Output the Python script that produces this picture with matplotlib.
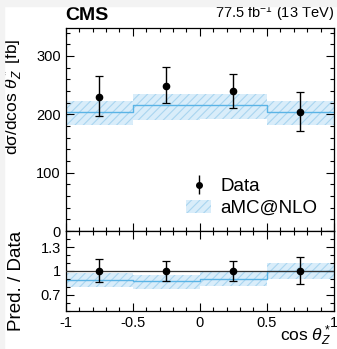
import matplotlib
matplotlib.use("Agg")
import matplotlib.pyplot as plt
from matplotlib.patches import Patch, Rectangle
from matplotlib.ticker import MultipleLocator, FixedLocator
import numpy as np

plt.rcParams['font.family'] = ['Liberation Sans', 'DejaVu Sans']
plt.rcParams['mathtext.fontset'] = 'custom'
plt.rcParams['mathtext.rm'] = 'Liberation Sans'
plt.rcParams['mathtext.it'] = 'Liberation Sans:italic'
plt.rcParams['mathtext.bf'] = 'Liberation Sans:bold'
plt.rcParams['hatch.color'] = '#a9d5f0'
plt.rcParams['hatch.linewidth'] = 0.8

# bins in cos theta_Z*
bin_edges = [-1.0, -0.5, 0.0, 0.5, 1.0]
bin_centers = [-0.75, -0.25, 0.25, 0.75]

# measured cross section [fb]
data_val = [230, 249, 240, 204]
data_up = [266, 281, 269, 238]
data_dn = [197, 219, 210, 172]

# aMC@NLO prediction [fb]
pred_val = [203.5, 216, 215.6, 204]
pred_up = [222, 235.5, 235.5, 222]
pred_dn = [181, 190, 191.6, 182]

# ratio panel: pred / data
ratio_val = [0.89, 0.877, 0.905, 1.0]
ratio_up = [0.975, 0.95, 0.988, 1.10]
ratio_dn = [0.80, 0.78, 0.81, 0.90]
rdata_up = [1.15, 1.12, 1.127, 1.17]
rdata_dn = [0.86, 0.877, 0.877, 0.84]

LINE_BLUE = '#5ab4e6'
FILL_BLUE = '#d9edfa'


def step(vals):
    return list(vals) + [vals[-1]]


def draw_band(ax, val, up, dn):
    ax.fill_between(bin_edges, step(dn), step(up), step='post',
                    facecolor=FILL_BLUE, edgecolor='#a9d5f0', hatch='////',
                    linewidth=0, zorder=1)
    ax.step(bin_edges, step(val), where='post', color=LINE_BLUE, lw=1.0,
            zorder=2)


def style_axis(ax):
    ax.tick_params(which='both', direction='in', top=True, right=True,
                   labelsize=10.5, width=0.8)
    ax.tick_params(which='major', length=6)
    ax.tick_params(which='minor', length=3)
    for s in ax.spines.values():
        s.set_linewidth(0.9)


fig = plt.figure(figsize=(3.37, 3.49), dpi=100)
# grey page margin seen at the top / left of the reference
fig.patches.append(Rectangle((0, 0.984), 1, 0.016, transform=fig.transFigure,
                             color='#f3f3f3', zorder=0))
fig.patches.append(Rectangle((0, 0), 0.011, 1, transform=fig.transFigure,
                             color='#f3f3f3', zorder=0))

ax1 = fig.add_axes([0.195, 0.338, 0.796, 0.582])
ax2 = fig.add_axes([0.195, 0.109, 0.796, 0.229], sharex=ax1)

# ---- top panel ----
draw_band(ax1, pred_val, pred_up, pred_dn)
yerr = [np.array(data_val) - np.array(data_dn),
        np.array(data_up) - np.array(data_val)]
ax1.errorbar(bin_centers, data_val, yerr=yerr, fmt='o', color='black',
             ms=4.5, elinewidth=1.0, capsize=3, capthick=0.9, zorder=5)
ax1.set_xlim(-1, 1)
ax1.set_ylim(0, 348)
ax1.yaxis.set_major_locator(MultipleLocator(100))
ax1.yaxis.set_minor_locator(MultipleLocator(20))
ax1.xaxis.set_major_locator(MultipleLocator(0.5))
ax1.xaxis.set_minor_locator(MultipleLocator(0.1))
style_axis(ax1)
ax1.tick_params(labelbottom=False)
ax1.set_ylabel('dσ/dcos $\\theta_Z^*$ [fb]', fontsize=12.5)
ax1.yaxis.set_label_coords(-0.15, 0.66)

ax1.text(0.0, 1.02, 'CMS', transform=ax1.transAxes, fontsize=14,
         fontweight='bold', ha='left', va='bottom')
ax1.text(1.0, 1.02, r'77.5 fb$^{\mathregular{-1}}$ (13 TeV)',
         transform=ax1.transAxes, fontsize=10.5, ha='right', va='bottom')

data_handle = ax1.errorbar([], [], yerr=[], fmt='o', color='black', ms=4,
                           capsize=2.5, elinewidth=1.0)
band_handle = Patch(facecolor=FILL_BLUE, edgecolor='#a9d5f0', hatch='////',
                    linewidth=0)
ax1.legend([data_handle, band_handle], ['Data', 'aMC@NLO'],
           loc='lower right', bbox_to_anchor=(1.0, -0.015), frameon=False,
           fontsize=13.5, handlelength=1.3, handletextpad=0.5,
           labelspacing=0.25)

# ---- ratio panel ----
draw_band(ax2, ratio_val, ratio_up, ratio_dn)
ax2.axhline(1.0, color='#333333', lw=0.9, zorder=3)
ryerr = [np.ones(4) - np.array(rdata_dn), np.array(rdata_up) - np.ones(4)]
ax2.errorbar(bin_centers, np.ones(4), yerr=ryerr, fmt='o', color='black',
             ms=4.5, elinewidth=1.0, capsize=3, capthick=0.9, zorder=5)
ax2.set_ylim(0.5, 1.5)
ax2.yaxis.set_major_locator(FixedLocator([0.7, 1.0, 1.3]))
ax2.yaxis.set_minor_locator(MultipleLocator(0.1))
ax2.set_yticklabels(['0.7', '1', '1.3'])
style_axis(ax2)
ax2.set_xticks([-1, -0.5, 0, 0.5, 1])
ax2.set_xticklabels(['-1', '-0.5', '0', '0.5', '1'])
ax2.set_ylabel('Pred. / Data', fontsize=13.5)
ax2.yaxis.set_label_coords(-0.15, 0.37)

fig.text(0.981, 0.022, 'cos $\\theta_Z^*$', fontsize=12.5,
         ha='right', va='baseline')

fig.savefig('out.png', dpi=100)
